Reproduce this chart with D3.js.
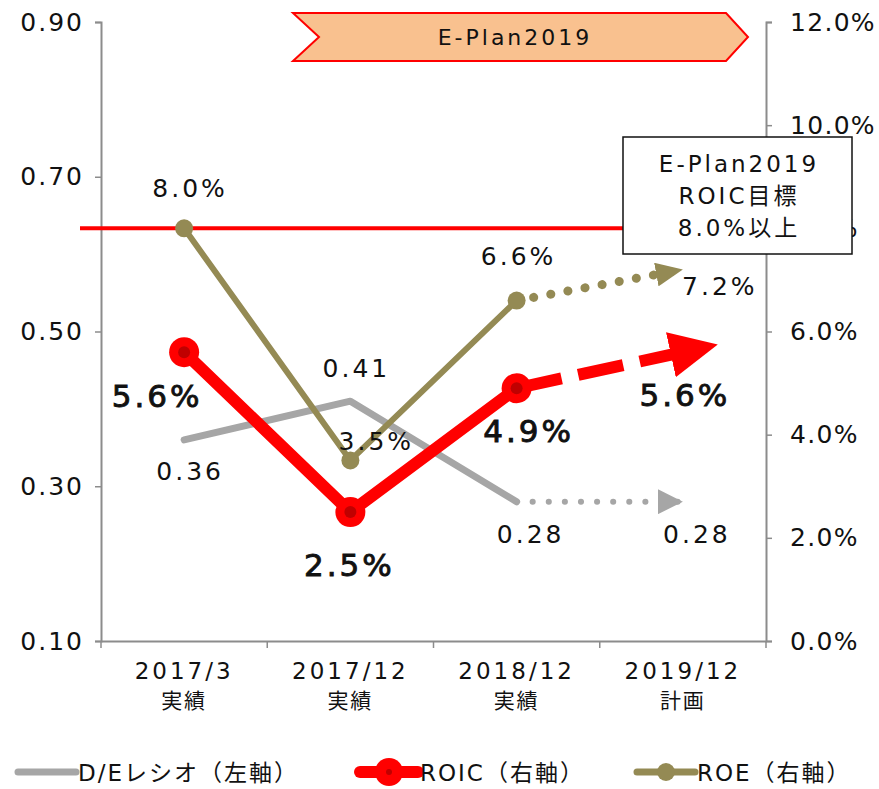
<!DOCTYPE html>
<html>
<head>
<meta charset="utf-8">
<script src="https://cdn.jsdelivr.net/npm/d3@7"></script>
<style>
  body { margin: 0; background: #fff; }
  svg text { font-family: "DejaVu Sans", "Noto Sans CJK JP", sans-serif; fill: #111; }
</style>
</head>
<body>
<div id="chart"></div>
<script>
// categories and series
var years = ['2017/3', '2017/12', '2018/12', '2019/12'];
var kinds = ['実績', '実績', '実績', '計画'];
var deRatio = [0.36, 0.41, 0.28];
var dePlan = 0.28;
var roic = [0.056, 0.025, 0.049];
var roicPlan = 0.056;
var roe = [0.080, 0.035, 0.066];
var roePlan = 0.072;
var roicTarget = 0.08;
var leftTicks = [0.10, 0.30, 0.50, 0.70, 0.90];
var rightTicks = [0, 0.02, 0.04, 0.06, 0.08, 0.10, 0.12];

var W = 879, H = 789;
var svg = d3.select('#chart').append('svg')
  .attr('width', W)
  .attr('height', H);

var x = d3.scaleBand().domain(years).range([101, 766]);
var cx = function (c) { return x(c) + x.bandwidth() / 2; };
var yL = d3.scaleLinear().domain([0.1, 0.9]).range([641, 22]);
var yR = d3.scaleLinear().domain([0, 0.12]).range([641, 22]);

var GRAY = '#a6a6a6', RED = '#ff0000', OLIVE = '#948a54', AXIS = '#8c8c8c';

// arrow heads
var defs = svg.append('defs');
function arrowHead(id, len, wid, color) {
  defs.append('marker')
      .attr('id', id)
      .attr('markerUnits', 'userSpaceOnUse')
      .attr('viewBox', '0 0 ' + len + ' ' + wid)
      .attr('markerWidth', len)
      .attr('markerHeight', wid)
      .attr('refX', len)
      .attr('refY', wid / 2)
      .attr('orient', 'auto')
    .append('path')
      .attr('d', 'M0,0L' + len + ',' + (wid / 2) + 'L0,' + wid + 'Z')
      .style('fill', color);
}
arrowHead('arrGray', 25, 25, GRAY);
arrowHead('arrOlive', 27, 24, OLIVE);
arrowHead('arrRed', 48, 46, RED);

// axes
var gL = svg.append('g').attr('transform', 'translate(101,0)')
  .call(d3.axisLeft(yL).tickValues(leftTicks).tickFormat(d3.format('.2f')).tickSize(6));
var gR = svg.append('g').attr('transform', 'translate(766,0)')
  .call(d3.axisRight(yR).tickValues(rightTicks).tickFormat(d3.format('.1%')).tickSize(6));
var gB = svg.append('g').attr('transform', 'translate(0,641)')
  .call(d3.axisBottom(x).tickSize(0).tickFormat(''));

[gL, gR, gB].forEach(function (g) {
  g.select('.domain').style('stroke', AXIS).style('stroke-width', 2);
  g.selectAll('.tick line').style('stroke', AXIS).style('stroke-width', 1.5);
  g.selectAll('.tick text')
    .style('font-family', '"DejaVu Sans", sans-serif')
    .style('font-size', '25px')
    .style('fill', '#111');
});
gL.selectAll('.tick text').attr('x', -17).style('letter-spacing', '2px');
gR.selectAll('.tick text').attr('x', 24).style('letter-spacing', '1.3px');

// category boundary ticks
gB.selectAll('line.sep')
  .data(x.domain().concat(['end']))
  .enter().append('line')
    .attr('x1', function (d) { return d === 'end' ? 766 : x(d); })
    .attr('x2', function (d) { return d === 'end' ? 766 : x(d); })
    .attr('y1', 0).attr('y2', 7)
    .style('stroke', AXIS).style('stroke-width', 1.5);

var catLab = svg.append('g').selectAll('g')
  .data(years)
  .enter().append('g')
    .attr('transform', function (d) { return 'translate(' + cx(d) + ',0)'; });
catLab.append('text')
  .attr('y', 679).attr('text-anchor', 'middle')
  .style('font-size', '23px').style('letter-spacing', '3px')
  .text(function (d) { return d; });
catLab.append('text')
  .attr('y', 708).attr('text-anchor', 'middle')
  .style('font-size', '21px').style('letter-spacing', '2px')
  .text(function (d, i) { return kinds[i]; });

// ROIC target line
svg.append('line')
  .attr('x1', 80).attr('x2', 625)
  .attr('y1', yR(roicTarget)).attr('y2', yR(roicTarget))
  .style('stroke', RED).style('stroke-width', 4);

var actual = years.slice(0, 3);
var line = d3.line();

function pts(vals, y) {
  return vals.map(function (v, i) { return [cx(actual[i]), y(v)]; });
}
// shorten or extend a segment toward its end
function seg(p0, p1, k) {
  return [p0, [p0[0] + (p1[0] - p0[0]) * k, p0[1] + (p1[1] - p0[1]) * k]];
}

// D/E ratio
var dePts = pts(deRatio, yL);
var dePlanPt = [cx(years[3]), yL(dePlan)];
svg.append('path')
  .attr('d', line(seg(dePts[2], dePlanPt, 1)))
  .style('fill', 'none').style('stroke', GRAY).style('stroke-width', 6)
  .style('stroke-linecap', 'round').style('stroke-dasharray', '0.1,16')
  .attr('stroke-dashoffset', -16)
  .attr('marker-end', 'url(#arrGray)');
svg.append('path')
  .attr('d', line(dePts))
  .style('fill', 'none').style('stroke', GRAY).style('stroke-width', 7)
  .style('stroke-linecap', 'round').style('stroke-linejoin', 'round');

// ROE
var roePts = pts(roe, yR);
var roePlanPt = [cx(years[3]), yR(roePlan)];
svg.append('path')
  .attr('d', line(seg(roePts[2], roePlanPt, 1)))
  .style('fill', 'none').style('stroke', OLIVE).style('stroke-width', 9)
  .style('stroke-linecap', 'round').style('stroke-dasharray', '0.1,17.3')
  .attr('stroke-dashoffset', -17.3)
  .attr('marker-end', 'url(#arrOlive)');
svg.append('path')
  .attr('d', line(roePts))
  .style('fill', 'none').style('stroke', OLIVE).style('stroke-width', 6)
  .style('stroke-linejoin', 'round');
svg.selectAll('circle.roe')
  .data(roePts)
  .enter().append('circle')
    .classed('roe', true)
    .attr('cx', function (p) { return p[0]; })
    .attr('cy', function (p) { return p[1]; })
    .attr('r', 9)
    .style('fill', OLIVE);

// ROIC
var roicPts = pts(roic, yR);
var roicPlanPt = [cx(years[3]), yR(roicPlan)];
var roicEnd = seg(roicPts[2], roicPlanPt, 1.21)[1];
svg.append('path')
  .attr('d', line(seg(roicPts[2], roicEnd, 0.82)))
  .style('fill', 'none').style('stroke', RED).style('stroke-width', 12)
  .style('stroke-dasharray', '46,17');
svg.append('path')
  .attr('d', line([seg(roicPts[2], roicEnd, 0.75)[1], roicEnd]))
  .style('fill', 'none').style('stroke', 'none')
  .attr('marker-end', 'url(#arrRed)');
svg.append('path')
  .attr('d', line(roicPts))
  .style('fill', 'none').style('stroke', RED).style('stroke-width', 12)
  .style('stroke-linejoin', 'round');
var roicDots = svg.selectAll('g.roic')
  .data(roicPts)
  .enter().append('g')
    .classed('roic', true)
    .attr('transform', function (p) { return 'translate(' + p[0] + ',' + p[1] + ')'; });
roicDots.append('circle').attr('r', 15).style('fill', RED);
roicDots.append('circle').attr('r', 6).style('fill', '#c00000');

// data labels
var fmtPct = d3.format('.1%');
function labels(vals, planVal, offs, fmt, size, spacing, heavy) {
  var all = vals.concat([planVal]);
  svg.append('g').selectAll('text')
    .data(all)
    .enter().append('text')
      .attr('x', function (d, i) { return cx(years[i]) + offs[i][0]; })
      .attr('y', function (d, i) { return offs[i][1]; })
      .attr('text-anchor', 'middle')
      .style('font-size', size).style('letter-spacing', spacing)
      .style('stroke', heavy ? '#111' : 'none')
      .style('stroke-width', heavy ? 0.9 : 0)
      .text(function (d) { return fmt(d); });
}
labels(deRatio, dePlan, [[6, 480], [6, 377], [14, 543], [14, 543]], d3.format('.2f'), '25px', '3px', false);
labels(roe, roePlan, [[6, 197], [26, 450], [2, 265], [37, 295]], fmtPct, '25px', '3px', false);
labels(roic, roicPlan, [[-27, 407], [-1, 576], [12, 442], [2, 406]], fmtPct, '31px', '3px', true);

// E-Plan2019 banner
var bx0 = 293, bx1 = 748, by0 = 13, by1 = 61, notch = 26;
var bm = (by0 + by1) / 2;
svg.append('path')
  .attr('d', 'M' + bx0 + ',' + by0 + 'L' + (bx1 - 22) + ',' + by0 + 'L' + bx1 + ',' + bm +
    'L' + (bx1 - 22) + ',' + by1 + 'L' + bx0 + ',' + by1 + 'L' + (bx0 + notch) + ',' + bm + 'Z')
  .style('fill', '#f9c18f').style('stroke', RED).style('stroke-width', 2);
svg.append('text')
  .attr('x', 515).attr('y', bm + 8).attr('text-anchor', 'middle')
  .style('font-size', '22px').style('letter-spacing', '3px')
  .text('E-Plan2019');

// target callout
svg.append('rect')
  .attr('x', 623).attr('y', 137).attr('width', 229).attr('height', 117)
  .style('fill', '#fff').style('stroke', '#111').style('stroke-width', 1.5);
svg.append('g').selectAll('text')
  .data(['E-Plan2019', 'ROIC目標', '8.0%以上'])
  .enter().append('text')
    .attr('x', 739).attr('y', function (d, i) { return 172 + i * 32; })
    .attr('text-anchor', 'middle')
    .style('font-size', '23px').style('letter-spacing', '3px')
    .text(function (d) { return d; });

// legend
var legend = [
  { name: 'D/Eレシオ（左軸）', color: GRAY, x: 18, w: 7, r: 0, inner: 0 },
  { name: 'ROIC（右軸）', color: RED, x: 360, w: 12, r: 14, inner: 3 },
  { name: 'ROE（右軸）', color: OLIVE, x: 637, w: 7, r: 9, inner: 0 }
];
var lg = svg.append('g').selectAll('g')
  .data(legend)
  .enter().append('g')
    .attr('transform', function (d) { return 'translate(' + d.x + ',772)'; });
lg.append('line')
  .attr('x1', 0).attr('x2', 58)
  .style('stroke', function (d) { return d.color; })
  .style('stroke-width', function (d) { return d.w; })
  .style('stroke-linecap', 'round');
lg.filter(function (d) { return d.r > 0; }).append('circle')
  .attr('cx', 29).attr('r', function (d) { return d.r; })
  .style('fill', function (d) { return d.color; });
lg.filter(function (d) { return d.inner > 0; }).append('circle')
  .attr('cx', 29).attr('r', function (d) { return d.inner; })
  .style('fill', '#c00000');
lg.append('text')
  .attr('x', 60).attr('y', 9)
  .style('font-size', '23px').style('letter-spacing', '2px')
  .text(function (d) { return d.name; });
</script>
</body>
</html>
